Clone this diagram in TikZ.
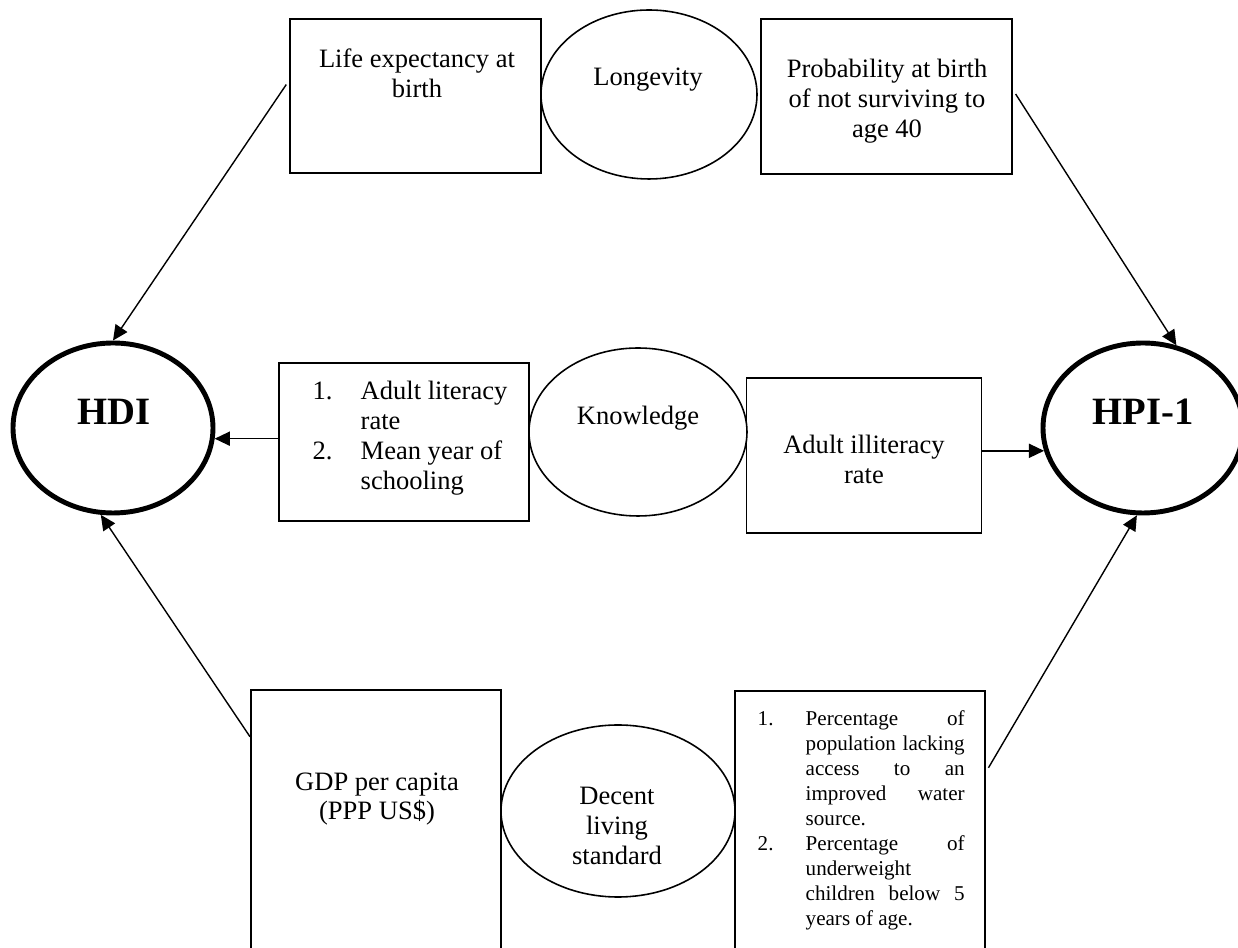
\documentclass[tikz,border=0pt]{standalone}
\usepackage{fontspec}
\setmainfont{Liberation Serif}
\usetikzlibrary{shapes.geometric, arrows.meta}

\newcommand{\fillline}[1]{\makebox[1.59cm][s]{#1}}

\begin{document}
\begin{tikzpicture}[>={Triangle[length=4.3pt, width=4pt]},
        box/.style={draw, line width=0.55pt, inner sep=0pt},
        oval/.style={draw, ellipse, line width=0.45pt, inner sep=0pt},
        index/.style={draw, ellipse, line width=1.4pt, inner sep=0pt, minimum width=2cm, minimum height=1.7cm},
        txt/.style={align=center, inner sep=0pt, font=\fontsize{7.55}{8.5}\selectfont},
        small/.style={inner sep=0pt, font=\fontsize{6}{7.1}\selectfont},
        big/.style={inner sep=0pt, font=\fontsize{11}{13}\selectfont\bfseries},
        link/.style={->, line width=0.4pt}]
        \useasboundingbox (0,0) rectangle (12.38,-9.48);
        \clip (0,0) rectangle (12.38,-9.48);

        % Longevity
        \node[box, minimum width=2.51cm, minimum height=1.54cm] (life) at (4.155,-0.96) {};
        \node[txt] (lifetxt) at (4.17,-0.73) {Life expectancy at\\birth};
        \node[oval, minimum width=2.16cm, minimum height=1.69cm] (longevity) at (6.49,-0.945) {};
        \node[txt] (longtxt) at (6.48,-0.80) {Longevity};
        \node[box, minimum width=2.51cm, minimum height=1.55cm] (prob) at (8.865,-0.965) {};
        \node[txt] (probtxt) at (8.87,-1.01) {Probability at birth\\of not surviving to\\age 40};

        % Knowledge
        \node[box, minimum width=2.50cm, minimum height=1.58cm] (lit) at (4.04,-4.42) {};
        \node[txt, anchor=west] (littxt) at (3.12,-4.385) {\begin{tabular}{@{}p{0.48cm}@{}l@{}}
            1. & Adult literacy\\
               & rate\\
            2. & Mean year of\\
               & schooling
        \end{tabular}};
        \node[oval, minimum width=2.18cm, minimum height=1.68cm] (knowledge) at (6.38,-4.32) {};
        \node[txt] (knowtxt) at (6.38,-4.18) {Knowledge};
        \node[box, minimum width=2.35cm, minimum height=1.55cm] (illit) at (8.64,-4.555) {};
        \node[txt] (illittxt) at (8.64,-4.59) {Adult illiteracy\\rate};

        % Decent living standard
        \node[box, minimum width=2.50cm, minimum height=2.70cm] (gdp) at (3.76,-8.25) {};
        \node[txt] (gdptxt) at (3.77,-7.99) {GDP per capita\\(PPP US\$)};
        \node[oval, minimum width=2.34cm, minimum height=1.72cm] (decent) at (6.18,-8.11) {};
        \node[txt] (decenttxt) at (6.17,-8.26) {Decent\\living\\standard};
        \node[box, minimum width=2.50cm, minimum height=2.69cm] (pct) at (8.60,-8.255) {};
        \node[small, anchor=west] (pcttxt) at (7.57,-8.205) {\begin{tabular}{@{}p{0.48cm}@{}l@{}}
            1. & \fillline{Percentage of}\\
               & \fillline{population lacking}\\
               & \fillline{access to an}\\
               & \fillline{improved water}\\
               & source.\\
            2. & \fillline{Percentage of}\\
               & underweight\\
               & \fillline{children below 5}\\
               & years of age.
        \end{tabular}};

        % Indices
        \node[index] (hdi) at (1.13,-4.28) {};
        \node[big] (hditxt) at (1.14,-4.12) {HDI};
        \node[index] (hpi) at (11.43,-4.28) {};
        \node[big] (hpitxt) at (11.43,-4.12) {HPI-1};

        % Arrows to HDI
        \draw[link, shorten <=1.4pt] (life.173) -- (hdi.north);
        \draw[link] (lit.west |- hdi.354) -- (hdi.354);
        \draw[link] (gdp.145) -- (hdi.262);

        % Arrows to HPI-1
        \draw[link, shorten <=1.4pt] (prob.3) -- (hpi.68);
        \draw[link] (illit.east |- hpi.193) -- (hpi.193);
        \draw[link, shorten <=1.4pt] (pct.23) -- (hpi.266);
    \end{tikzpicture}
\end{document}
